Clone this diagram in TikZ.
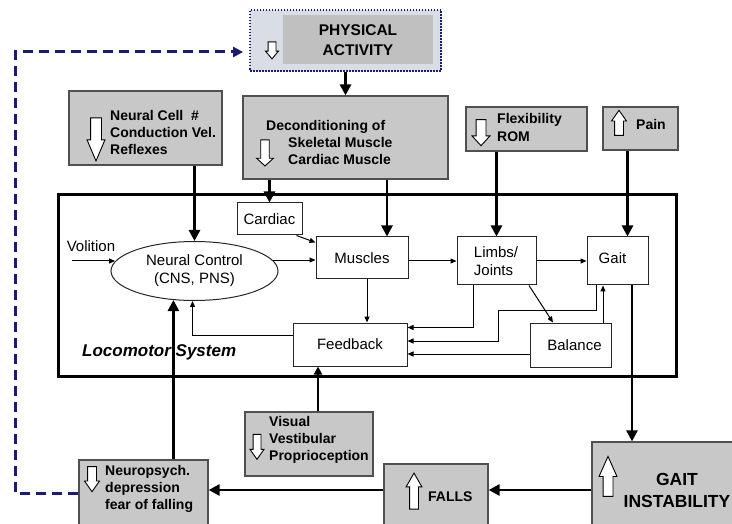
\documentclass[tikz,border=0pt]{standalone}
\usepackage{fontspec}
\setmainfont{Liberation Sans}
\usetikzlibrary{arrows.meta,shapes.arrows,shapes.geometric}

\definecolor{boxgray}{HTML}{C8C8C8}
\definecolor{pagray}{HTML}{C0C0C0}
\definecolor{paback}{HTML}{D9DDE5}
\definecolor{loopblue}{HTML}{1B1B72}
\definecolor{edgegray}{HTML}{505050}

\tikzset{
  graybox/.style={draw=edgegray, fill=boxgray, line width=1.2pt, inner sep=0pt},
  whitebox/.style={draw=black!85, line width=1pt, inner sep=0pt, font=\fontsize{15}{18}\selectfont, align=left},
  boldtext/.style={font=\fontsize{14}{17}\selectfont\bfseries, align=left, inner sep=0pt, anchor=west},
  hollow/.style={single arrow, draw=black, fill=white, line width=0.9pt, inner sep=4pt,
    single arrow head extend=4pt, single arrow head indent=0pt, single arrow tip angle=70, minimum height=#1},
  bigarr/.style={line width=2.6pt, -{Triangle[length=11pt,width=11pt]}},
  thinarr/.style={line width=1pt, -{Triangle[length=6pt,width=5pt]}},
}

\begin{document}
\begin{tikzpicture}[x=1pt,y=-1pt]
\useasboundingbox (0,0) rectangle (732,524);
\clip (0,0) rectangle (732,524);

% physical activity (top):
\node[draw=loopblue, dash pattern=on 1.5pt off 1.5pt, line width=1.8pt, fill=paback,
  minimum width=191pt, minimum height=61pt, inner sep=0pt] (physout) at (345.5,40.5) {};
\node[fill=pagray, minimum width=150pt, minimum height=49pt, inner sep=0pt] (physin) at (358,39.5) {};
\node[boldtext, anchor=center, align=center, font=\fontsize{15.5}{20}\selectfont\bfseries] (phystxt) at (358,40) {PHYSICAL\\ACTIVITY};
\node[hollow=17pt, rotate=-90, inner sep=3.5pt, single arrow head extend=2.5pt, single arrow tip angle=80] (physdn) at (272,48) {};

% gray input boxes
\node[graybox, minimum width=153pt, minimum height=74pt] (neurcell) at (145.5,128) {};
\node[boldtext] (neurcelltxt) at (110,132) {Neural Cell\ \ \#\\Conduction Vel.\\Reflexes};
\node[hollow=43pt, rotate=-90, inner sep=5pt, single arrow head extend=3.5pt, single arrow tip angle=46] (neurcelldn) at (96,133) {};

\node[graybox, minimum width=205pt, minimum height=83pt] (decond) at (345.5,137.5) {};
\node[boldtext] (decondtxt) at (266,142) {Deconditioning of\\\hspace*{22pt}Skeletal Muscle\\\hspace*{22pt}Cardiac Muscle};
\node[hollow=26pt, rotate=-90, inner sep=3.8pt, single arrow head extend=4.2pt, single arrow tip angle=95] (deconddn) at (265,151) {};

\node[graybox, minimum width=121pt, minimum height=44pt] (flex) at (526.5,129) {};
\node[boldtext, font=\fontsize{14}{18}\selectfont\bfseries] (flextxt) at (497,127) {Flexibility\\ROM};
\node[hollow=26pt, rotate=-90, inner sep=4.5pt, single arrow head extend=4pt, single arrow tip angle=85] (flexdn) at (481,130) {};

\node[graybox, minimum width=75pt, minimum height=43pt] (pain) at (640.5,128.5) {};
\node[boldtext] (paintxt) at (636,124) {Pain};
\node[hollow=25pt, rotate=90, inner sep=4pt, single arrow head extend=3pt] (painup) at (619,126) {};

% locomotor system
\node[draw, line width=3pt, minimum width=618pt, minimum height=181pt, inner sep=0pt] (loco) at (367,285.5) {};
\node[boldtext, font=\fontsize{17}{20}\selectfont\bfseries\itshape] (locotxt) at (82,352) {Locomotor System};

\node[whitebox, minimum width=65pt, minimum height=32pt] (cardiac) at (269.5,219) {Cardiac};
\node[whitebox, minimum width=92pt, minimum height=42pt] (muscles) at (362,258) {Muscles};
\node[whitebox, ellipse, align=center, minimum width=167pt, minimum height=59pt] (neural) at (194.5,271) {Neural Control\\(CNS, PNS)};
\node[whitebox, minimum width=79pt, minimum height=48pt] (limbs) at (496.5,261) {Limbs/\\Joints\hspace*{6pt}};
\node[whitebox, minimum width=61pt, minimum height=48pt] (gait) at (617.5,261) {\raisebox{5pt}{Gait}\hspace*{10pt}};
\node[whitebox, minimum width=114pt, minimum height=43pt] (feedback) at (350,344.5) {Feedback};
\node[whitebox, minimum width=81pt, minimum height=44pt] (balance) at (570.5,345) {\hspace*{8pt}Balance};
\node[font=\fontsize{15}{18}\selectfont, inner sep=0pt] (volition) at (91,246) {Volition};
\coordinate (volin) at (72,261);

% gray output boxes (bottom)
\node[graybox, minimum width=128pt, minimum height=64pt] (visual) at (309,444) {};
\node[boldtext] (visualtxt) at (269,440) {Visual\\Vestibular\\Proprioception};
\node[hollow=25pt, rotate=-90, inner sep=3.5pt, single arrow head extend=3pt] (visualdn) at (257,444) {};

\node[graybox, minimum width=129pt, minimum height=80pt] (neuro) at (143.5,500) {};
\node[boldtext] (neurotxt) at (105,489) {Neuropsych.\\depression\\fear of falling};
\node[hollow=25pt, rotate=-90, inner sep=4pt, single arrow head extend=3pt] (neurodn) at (92,476) {};

\node[graybox, minimum width=104pt, minimum height=76pt] (falls) at (436,502) {};
\node[boldtext] (fallstxt) at (428,497) {FALLS};
\node[hollow=36pt, rotate=90, inner sep=4pt, single arrow head extend=3.5pt, single arrow tip angle=60] (fallsup) at (414,495) {};

\node[graybox, minimum width=153pt, minimum height=98pt] (gaitinst) at (668.5,491) {};
\node[boldtext, anchor=center, align=center, font=\fontsize{17.5}{22}\selectfont\bfseries] (gaitinsttxt) at (677,490) {GAIT\\INSTABILITY};
\node[hollow=40pt, rotate=90, inner sep=4.5pt, single arrow head extend=4pt, single arrow tip angle=48] (gaitinstup) at (608,482) {};

% thick connectors
\draw[bigarr] (physout.south) -- (decond.north);
\draw[bigarr] (neural.north |- neurcell.south) -- (neural.north);
\draw[bigarr] (cardiac.north |- decond.south) -- (cardiac.north);
\draw[bigarr] ([xshift=25pt]muscles.north |- decond.south) -- ([xshift=25pt]muscles.north);
\draw[bigarr] (limbs.north |- flex.south) -- (limbs.north);
\draw[bigarr] ([xshift=10pt]gait.north |- pain.south) -- ([xshift=10pt]gait.north);
\draw[bigarr] (neural.234 |- neuro.north) -- (neural.234);
\draw[line width=2.6pt, -{Triangle[length=8pt,width=8pt]}] ([xshift=-32pt]feedback.south |- visual.north) -- ([xshift=-32pt]feedback.south);
\draw[bigarr] ([xshift=14.5pt]gait.south) -- ([xshift=14.5pt]gait.south |- gaitinst.north);
\draw[bigarr] ([yshift=1pt]gaitinst.west) -- ([yshift=1pt]gaitinst.west -| falls.east);
\draw[bigarr] ([yshift=12pt]falls.west) -- ([yshift=12pt]falls.west -| neuro.east);

% thin connectors inside
\draw[thinarr] (volin) -- (volin -| neural.173);
\draw[thinarr] (neural.8) -- (neural.8 -| muscles.west);
\draw[thinarr] ([xshift=-6pt]cardiac.south east) -- ([yshift=-6pt]muscles.north west);
\draw[thinarr] (muscles.east |- limbs.west) -- (limbs.west);
\draw[thinarr] (limbs.east) -- (gait.west);
\draw[thinarr] ([xshift=5pt]muscles.south) -- ([xshift=5pt]muscles.south |- feedback.north);
\draw[thinarr] ([yshift=9pt]feedback.west) -| ([xshift=-2pt]neural.south);
\draw[thinarr] ([xshift=-23.5pt]limbs.south) |- ([yshift=17pt]feedback.east);
\draw[thinarr] ([xshift=-21.5pt]gait.south) |- (498,311) |- ([yshift=3.5pt]feedback.east);
\draw[thinarr] ([yshift=-9pt]balance.west) -- ([yshift=-9pt]balance.west -| feedback.east);
\draw[thinarr] ([xshift=32.5pt]limbs.south) -- ([xshift=-17.5pt]balance.north);
\draw[thinarr] ([xshift=-14.5pt]gait.south |- balance.north) -- ([xshift=-14.5pt]gait.south);

% loop back (dashed)
\draw[loopblue, line width=3pt, dash pattern=on 10pt off 6pt, -{Triangle[length=10pt,width=10pt]}, shorten >=6pt]
  ([yshift=7pt]neuro.west) -| (15,52) -- ([yshift=-11.5pt]physout.west);

\end{tikzpicture}
\end{document}
